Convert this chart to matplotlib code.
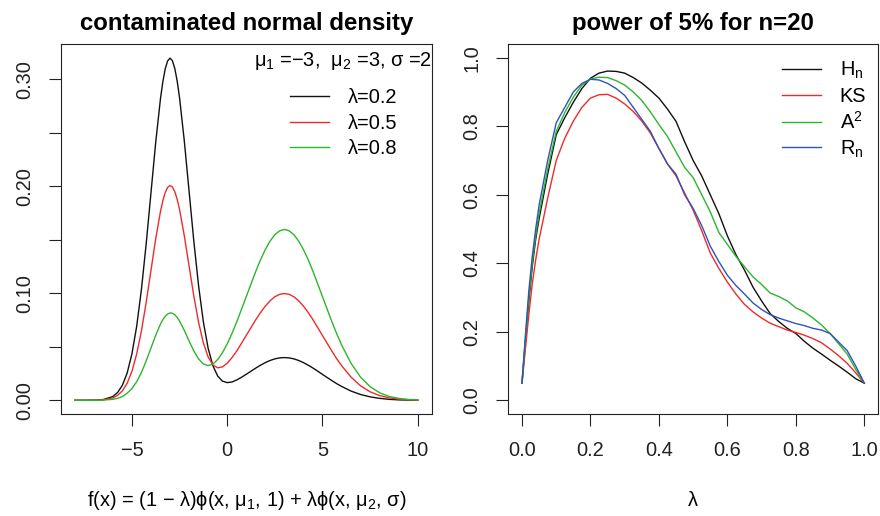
import matplotlib
matplotlib.use("Agg")
import matplotlib.pyplot as plt

plt.rcParams["font.family"] = ["Liberation Sans", "DejaVu Sans"]
plt.rcParams["mathtext.fontset"] = "custom"
plt.rcParams["mathtext.rm"] = "Liberation Sans"
plt.rcParams["mathtext.it"] = "Liberation Sans"
plt.rcParams["axes.unicode_minus"] = True

# left panel: density values
x_vals = [-8, -7, -6.5, -6, -5.75, -5.5, -5.25, -5, -4.75, -4.5, -4.25, -4,
          -3.75, -3.5, -3.375, -3.25, -3.125, -3, -2.875, -2.75, -2.625, -2.5,
          -2.25, -2, -1.75, -1.5, -1.25,
          -1, -0.75, -0.5, -0.25, 0, 0.25, 0.5, 0.75, 1, 1.25, 1.5, 1.75, 2,
          2.25, 2.5, 2.75, 3, 3.25, 3.5, 3.75, 4, 4.25, 4.5, 4.75, 5, 5.25,
          5.5, 5.75, 6, 6.5, 7, 7.5, 8, 8.5, 9, 9.5, 10]
dens_02 = [0.0, 0.0001, 0.0007, 0.0035, 0.0073, 0.0140, 0.0254, 0.0432, 0.0690,
           0.1036, 0.1462, 0.1937, 0.2410, 0.2819, 0.2977, 0.3097, 0.3170, 0.3196,
           0.3172, 0.3100, 0.2983, 0.2826,
           0.2422, 0.1953, 0.1485, 0.1068, 0.0732, 0.0486, 0.0323, 0.0227, 0.0179,
           0.0165, 0.0171, 0.0190, 0.0215, 0.0243, 0.0272, 0.0301, 0.0328, 0.0352,
           0.0372, 0.0387, 0.0396, 0.0399, 0.0396, 0.0387, 0.0372, 0.0352, 0.0328,
           0.0301, 0.0272, 0.0242, 0.0212, 0.0183, 0.0155, 0.0130, 0.0086, 0.0054,
           0.0032, 0.0018, 0.0009, 0.0004, 0.0002, 0.0001]
dens_05 = [0.0, 0.0001, 0.0004, 0.0022, 0.0046, 0.0088, 0.0159, 0.0270, 0.0432,
           0.0648, 0.0915, 0.1212, 0.1509, 0.1765, 0.1866, 0.1941, 0.1988, 0.2006,
           0.1993, 0.1949, 0.1878, 0.1783,
           0.1537, 0.1254, 0.0973, 0.0727, 0.0536, 0.0405, 0.0331, 0.0303, 0.0312,
           0.0346, 0.0398, 0.0461, 0.0532, 0.0606, 0.0679, 0.0753, 0.0820, 0.0880,
           0.0930, 0.0967, 0.0990, 0.0997, 0.0990, 0.0967, 0.0930, 0.0880, 0.0820,
           0.0753, 0.0679, 0.0605, 0.0531, 0.0457, 0.0387, 0.0324, 0.0216, 0.0135,
           0.0079, 0.0044, 0.0023, 0.0011, 0.0005, 0.0002]
dens_08 = [0.0, 0.0, 0.0002, 0.0009, 0.0018, 0.0035, 0.0066, 0.0109, 0.0173,
           0.0260, 0.0368, 0.0487, 0.0608, 0.0712, 0.0754, 0.0785, 0.0806, 0.0816,
           0.0813, 0.0799, 0.0774, 0.0740,
           0.0653, 0.0554, 0.0460, 0.0386, 0.0340, 0.0324, 0.0338, 0.0380, 0.0444,
           0.0527, 0.0624, 0.0732, 0.0850, 0.0968, 0.1087, 0.1205, 0.1313, 0.1408,
           0.1487, 0.1547, 0.1583, 0.1596, 0.1583, 0.1547, 0.1487, 0.1408, 0.1313,
           0.1205, 0.1087, 0.0968, 0.0849, 0.0731, 0.0620, 0.0518, 0.0345, 0.0216,
           0.0127, 0.0070, 0.0036, 0.0018, 0.0008, 0.0004]
dens_labels = ["λ=0.2", "λ=0.5", "λ=0.8"]

# right panel: power curves
lam = [0, 0.01, 0.02, 0.03, 0.04, 0.05, 0.075, 0.1, 0.125, 0.15, 0.175, 0.2,
       0.225, 0.25, 0.275, 0.3, 0.325, 0.35, 0.375, 0.4, 0.425, 0.45, 0.475,
       0.5, 0.525, 0.55, 0.575, 0.6, 0.625, 0.65, 0.675, 0.7, 0.725, 0.75,
       0.775, 0.8, 0.825, 0.85, 0.875, 0.9, 0.925, 0.95, 0.975, 1.0]
power_hn = [0.05, 0.17, 0.29, 0.39, 0.47, 0.53, 0.66, 0.775, 0.825, 0.87, 0.91,
            0.94, 0.955, 0.961, 0.96, 0.955, 0.942, 0.926, 0.905, 0.882, 0.85,
            0.814, 0.755, 0.70, 0.655, 0.60, 0.545, 0.48, 0.425, 0.38, 0.33,
            0.29, 0.253, 0.23, 0.21, 0.195, 0.172, 0.152, 0.135, 0.117, 0.10,
            0.082, 0.063, 0.05]
power_ks = [0.05, 0.15, 0.25, 0.34, 0.41, 0.47, 0.59, 0.70, 0.765, 0.815, 0.855,
            0.882, 0.892, 0.893, 0.882, 0.865, 0.843, 0.815, 0.78, 0.735, 0.69,
            0.655, 0.605, 0.555, 0.495, 0.43, 0.385, 0.345, 0.31, 0.28, 0.258,
            0.24, 0.225, 0.215, 0.205, 0.198, 0.19, 0.18, 0.168, 0.15, 0.13,
            0.108, 0.08, 0.05]
power_a2 = [0.05, 0.18, 0.30, 0.40, 0.48, 0.545, 0.675, 0.785, 0.84, 0.885, 0.92,
            0.938, 0.943, 0.942, 0.933, 0.92, 0.90, 0.875, 0.842, 0.805, 0.77,
            0.725, 0.68, 0.65, 0.60, 0.55, 0.49, 0.455, 0.42, 0.39, 0.36, 0.338,
            0.313, 0.303, 0.29, 0.27, 0.258, 0.24, 0.22, 0.195, 0.165, 0.135,
            0.09, 0.05]
power_rn = [0.05, 0.19, 0.32, 0.42, 0.50, 0.57, 0.70, 0.81, 0.855, 0.90, 0.925,
            0.937, 0.935, 0.925, 0.91, 0.89, 0.855, 0.82, 0.785, 0.735, 0.69,
            0.66, 0.60, 0.56, 0.51, 0.45, 0.405, 0.365, 0.335, 0.31, 0.284, 0.265,
            0.25, 0.24, 0.232, 0.224, 0.218, 0.21, 0.205, 0.195, 0.17, 0.145,
            0.10, 0.05]
power_labels = ["H$_n$", "KS", "A$^2$", "R$_n$"]

BLACK = "#111111"
RED = "#EE2B2B"
GREEN = "#2DB52D"
BLUE = "#2F54B8"

FS = 14.4


def style_axes(ax):
    for sp in ax.spines.values():
        sp.set_linewidth(0.8)
        sp.set_color("#222222")
    ax.tick_params(direction="out", length=8.5, width=0.8, colors="#222222",
                   labelsize=FS, pad=11)
    for lab in ax.get_yticklabels():
        lab.set_rotation(90)
        lab.set_va("center")


fig = plt.figure(figsize=(8.8, 5.16), dpi=100)
ax1 = fig.add_axes([61 / 880, 102 / 516, 370.5 / 880, 370 / 516])
ax2 = fig.add_axes([508.3 / 880, 102 / 516, 369.7 / 880, 370 / 516])

# left panel
line_kw = dict(lw=1.0, solid_joinstyle="round")
ax1.plot(x_vals, dens_02, color=BLACK, label=dens_labels[0], **line_kw)
ax1.plot(x_vals, dens_05, color=RED, label=dens_labels[1], **line_kw)
ax1.plot(x_vals, dens_08, color=GREEN, label=dens_labels[2], **line_kw)
ax1.set_xlim(-8.72, 10.72)
ax1.set_ylim(-0.0128, 0.3328)
ax1.set_xticks([-5, 0, 5, 10])
ax1.set_yticks([0.0, 0.05, 0.10, 0.15, 0.20, 0.25, 0.30])
ax1.set_yticklabels(["0.00", "", "0.10", "", "0.20", "", "0.30"])
style_axes(ax1)
ax1.set_title("contaminated normal density", fontsize=17.3,
              fontweight="bold", pad=10)
ax1.set_xlabel("f(x) = (1 − λ)ϕ(x, μ$_1$, 1) + λϕ(x, μ$_2$, σ)",
               fontsize=FS, labelpad=21)
ax1.text(1.0, 0.953, "μ$_1$ =−3,  μ$_2$ =3, σ =2", transform=ax1.transAxes,
         ha="right", va="center", fontsize=FS)
ax1.legend(loc="upper left", bbox_to_anchor=(0.618, 0.881), frameon=False,
           fontsize=FS, handlelength=1.95, handletextpad=0.95,
           labelspacing=0.33, borderpad=0, borderaxespad=0)

# right panel
ax2.plot(lam, power_hn, color=BLACK, label=power_labels[0], **line_kw)
ax2.plot(lam, power_ks, color=RED, label=power_labels[1], **line_kw)
ax2.plot(lam, power_a2, color=GREEN, label=power_labels[2], **line_kw)
ax2.plot(lam, power_rn, color=BLUE, label=power_labels[3], **line_kw)
ax2.set_xlim(-0.04, 1.04)
ax2.set_ylim(-0.04, 1.04)
ax2.set_xticks([0.0, 0.2, 0.4, 0.6, 0.8, 1.0])
ax2.set_xticklabels(["0.0", "0.2", "0.4", "0.6", "0.8", "1.0"])
ax2.set_yticks([0.0, 0.2, 0.4, 0.6, 0.8, 1.0])
ax2.set_yticklabels(["0.0", "0.2", "0.4", "0.6", "0.8", "1.0"])
style_axes(ax2)
ax2.set_title("power of 5% for n=20", fontsize=17.3, fontweight="bold", pad=10)
ax2.set_xlabel("λ", fontsize=FS, labelpad=22)
ax2.legend(loc="upper left", bbox_to_anchor=(0.7395, 0.957), frameon=False,
           fontsize=FS, handlelength=1.95, handletextpad=0.95,
           labelspacing=0.27, borderpad=0, borderaxespad=0)

fig.savefig("out.png", dpi=100)
